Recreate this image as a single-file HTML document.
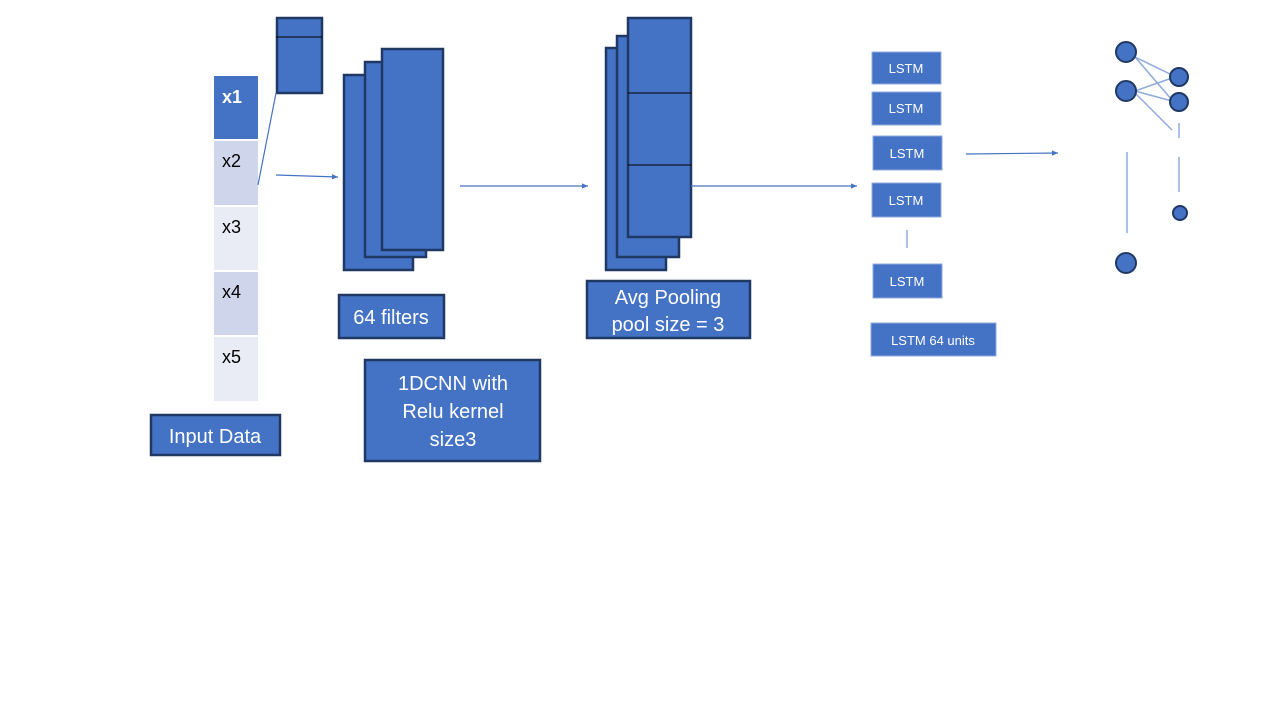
<!DOCTYPE html>
<html><head><style>body{margin:0;background:#fff}svg{display:block}text{font-family:"Liberation Sans",sans-serif}</style></head><body>
<svg width="1280" height="720" xmlns="http://www.w3.org/2000/svg">
<defs><marker id="a" markerWidth="6" markerHeight="6" refX="5" refY="3" orient="auto"><path d="M0,0.8 L5,3 L0,5.2z" fill="#4472C4"/></marker></defs>
<rect x="214" y="76" width="44" height="63" fill="#4472C4"/>
<rect x="214" y="141" width="44" height="64" fill="#CFD5EA"/>
<rect x="214" y="207" width="44" height="63" fill="#E9EBF5"/>
<rect x="214" y="272" width="44" height="63" fill="#CFD5EA"/>
<rect x="214" y="337" width="44" height="64" fill="#E9EBF5"/>
<g font-size="18"><text x="222" y="103" fill="#fff" font-weight="bold">x1</text><text x="222" y="167">x2</text><text x="222" y="233">x3</text><text x="222" y="298">x4</text><text x="222" y="363">x5</text></g>
<g stroke="#203864" stroke-width="2.5" fill="#4472C4">
<rect x="151" y="415" width="129" height="40"/>
<rect x="277" y="18" width="45" height="75"/>
<rect x="344" y="75" width="69" height="195"/><rect x="365" y="62" width="61" height="195"/><rect x="382" y="49" width="61" height="201"/>
<rect x="339" y="295" width="105" height="43"/>
<rect x="365" y="360" width="175" height="101"/>
<rect x="606" y="48" width="60" height="222"/><rect x="617" y="36" width="62" height="221"/><rect x="628" y="18" width="63" height="219"/>
<rect x="587" y="281" width="163" height="57"/>
</g>
<line x1="276" y1="37" x2="322" y2="37" stroke="#000" stroke-width="1"/>
<line x1="628" y1="93" x2="691" y2="93" stroke="#000"/><line x1="628" y1="165" x2="691" y2="165" stroke="#000"/>
<g fill="#fff" font-size="20" text-anchor="middle">
<text x="215" y="443">Input Data</text><text x="391" y="324">64 filters</text>
<text x="453" y="390">1DCNN with</text><text x="453" y="418">Relu kernel</text><text x="453" y="446">size3</text>
<text x="668" y="304">Avg Pooling</text><text x="668" y="331">pool size = 3</text>
</g>
<g stroke="#4472C4" stroke-width="1.2" fill="none">
<line x1="258" y1="185" x2="276" y2="93"/>
<line x1="276" y1="175" x2="338" y2="177" marker-end="url(#a)"/>
<line x1="460" y1="186" x2="588" y2="186" marker-end="url(#a)"/>
<line x1="691" y1="186" x2="857" y2="186" marker-end="url(#a)"/>
<line x1="966" y1="154" x2="1058" y2="153" marker-end="url(#a)"/>
</g>
<g stroke="#8FAADC" stroke-width="1.5" fill="none">
<line x1="907" y1="230" x2="907" y2="248"/>
<line x1="1127" y1="152" x2="1127" y2="233"/><line x1="1179" y1="123" x2="1179" y2="138"/><line x1="1179" y1="157" x2="1179" y2="192"/>
<line x1="1135" y1="57" x2="1172" y2="75"/><line x1="1135" y1="57" x2="1172" y2="100"/>
<line x1="1135" y1="91" x2="1172" y2="78"/><line x1="1135" y1="91" x2="1172" y2="101"/><line x1="1135" y1="93" x2="1172" y2="130"/>
</g>
<g fill="#4472C4" stroke="#8FAADC" stroke-width="1">
<rect x="872" y="52" width="69" height="32"/><rect x="872" y="92" width="69" height="33"/><rect x="873" y="136" width="69" height="34"/><rect x="872" y="183" width="69" height="34"/><rect x="873" y="264" width="69" height="34"/><rect x="871" y="323" width="125" height="33"/>
</g>
<g fill="#fff" font-size="13" text-anchor="middle">
<text x="906" y="73">LSTM</text><text x="906" y="113">LSTM</text><text x="907" y="158">LSTM</text><text x="906" y="205">LSTM</text><text x="907" y="286">LSTM</text><text x="933" y="345">LSTM 64 units</text>
</g>
<g fill="#4472C4" stroke="#203864" stroke-width="2">
<circle cx="1126" cy="52" r="10"/><circle cx="1126" cy="91" r="10"/><circle cx="1179" cy="77" r="9"/><circle cx="1179" cy="102" r="9"/><circle cx="1180" cy="213" r="7"/><circle cx="1126" cy="263" r="10"/>
</g>
</svg>
</body></html>
